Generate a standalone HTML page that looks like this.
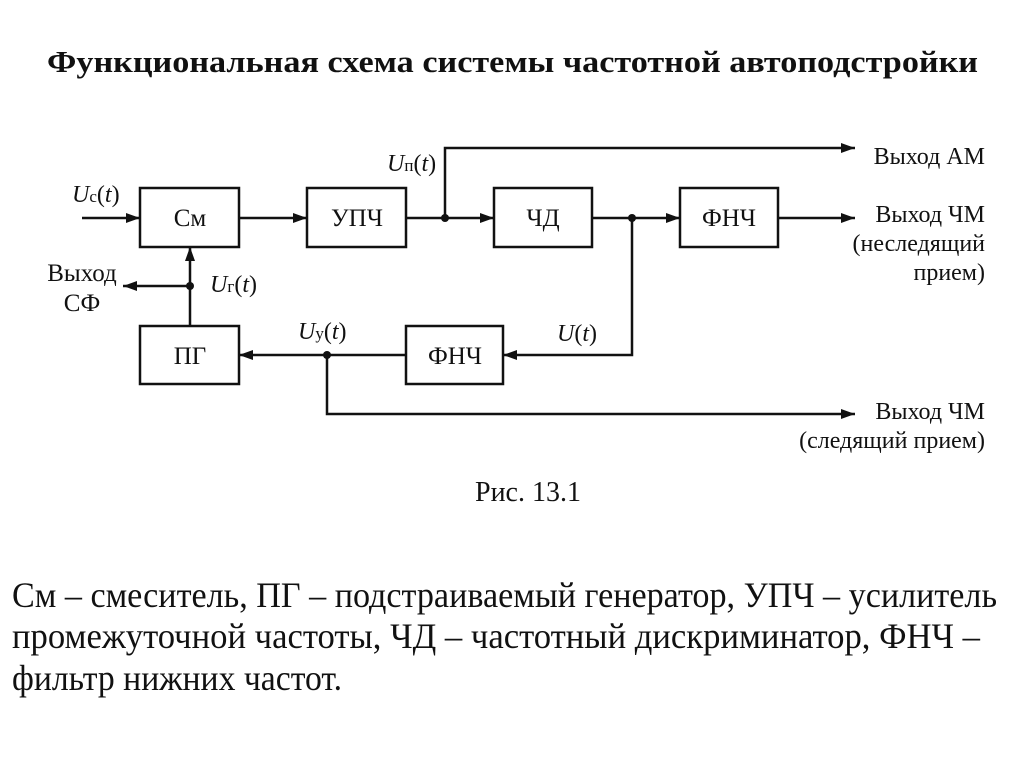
<!DOCTYPE html>
<html><head><meta charset="utf-8"><style>
html,body{margin:0;padding:0;background:#fff;}
svg{display:block;}
text{font-family:"Liberation Serif",serif;fill:#111;}
</style></head><body>
<svg width="1024" height="767" viewBox="0 0 1024 767">
<defs><marker id="a" viewBox="0 0 14 10" refX="14" refY="5" markerWidth="14" markerHeight="10" markerUnits="userSpaceOnUse" orient="auto"><path d="M0,0L14,5L0,10z" fill="#111"/></marker></defs>
<text x="47" y="72" font-size="31" font-weight="bold" textLength="931" lengthAdjust="spacingAndGlyphs">Функциональная схема системы частотной автоподстройки</text>
<g stroke="#111" stroke-width="2.5" fill="none">
<rect x="140" y="188" width="99" height="59"/>
<rect x="307" y="188" width="99" height="59"/>
<rect x="494" y="188" width="98" height="59"/>
<rect x="680" y="188" width="98" height="59"/>
<rect x="140" y="326" width="99" height="58"/>
<rect x="406" y="326" width="97" height="58"/>
<line x1="82" y1="218" x2="140" y2="218" marker-end="url(#a)"/>
<line x1="239" y1="218" x2="307" y2="218" marker-end="url(#a)"/>
<line x1="406" y1="218" x2="494" y2="218" marker-end="url(#a)"/>
<line x1="592" y1="218" x2="680" y2="218" marker-end="url(#a)"/>
<line x1="778" y1="218" x2="855" y2="218" marker-end="url(#a)"/>
<polyline points="445,218 445,148 855,148" marker-end="url(#a)"/>
<polyline points="632,218 632,355 503,355" marker-end="url(#a)"/>
<line x1="406" y1="355" x2="239" y2="355" marker-end="url(#a)"/>
<polyline points="327,355 327,414 855,414" marker-end="url(#a)"/>
<line x1="190" y1="326" x2="190" y2="247" marker-end="url(#a)"/>
<line x1="190" y1="286" x2="123" y2="286" marker-end="url(#a)"/>
</g>
<g fill="#111"><circle cx="445" cy="218" r="4"/><circle cx="632" cy="218" r="4"/><circle cx="327" cy="355" r="4"/><circle cx="190" cy="286" r="4"/></g>
<g font-size="25" text-anchor="middle">
<text x="190" y="226">См</text><text x="357" y="226">УПЧ</text><text x="543" y="226">ЧД</text><text x="729" y="226">ФНЧ</text>
<text x="190" y="364">ПГ</text><text x="455" y="364">ФНЧ</text>
<text x="82" y="281">Выход</text><text x="82" y="311">СФ</text>
</g>
<g font-size="24" text-anchor="end">
<text x="985" y="164">Выход АМ</text>
<text x="985" y="222">Выход ЧМ</text>
<text x="985" y="251">(неследящий</text>
<text x="985" y="280">прием)</text>
<text x="985" y="419">Выход ЧМ</text>
<text x="985" y="448">(следящий прием)</text>
</g>
<g font-size="24">
<text x="72" y="202"><tspan font-style="italic">U</tspan><tspan font-size="17">с</tspan>(<tspan font-style="italic">t</tspan>)</text>
<text x="387" y="171"><tspan font-style="italic">U</tspan><tspan font-size="17">п</tspan>(<tspan font-style="italic">t</tspan>)</text>
<text x="210" y="292"><tspan font-style="italic">U</tspan><tspan font-size="17">г</tspan>(<tspan font-style="italic">t</tspan>)</text>
<text x="298" y="339"><tspan font-style="italic">U</tspan><tspan font-size="17">у</tspan>(<tspan font-style="italic">t</tspan>)</text>
<text x="557" y="341"><tspan font-style="italic">U</tspan>(<tspan font-style="italic">t</tspan>)</text>
</g>
<text x="528" y="501" font-size="28" text-anchor="middle">Рис. 13.1</text>
<g font-size="36">
<text x="12" y="607" textLength="985" lengthAdjust="spacingAndGlyphs">См – смеситель, ПГ – подстраиваемый генератор, УПЧ – усилитель</text>
<text x="12" y="648" textLength="968" lengthAdjust="spacingAndGlyphs">промежуточной частоты, ЧД – частотный дискриминатор, ФНЧ –</text>
<text x="12" y="690" textLength="330" lengthAdjust="spacingAndGlyphs">фильтр нижних частот.</text>
</g>
</svg>
</body></html>
